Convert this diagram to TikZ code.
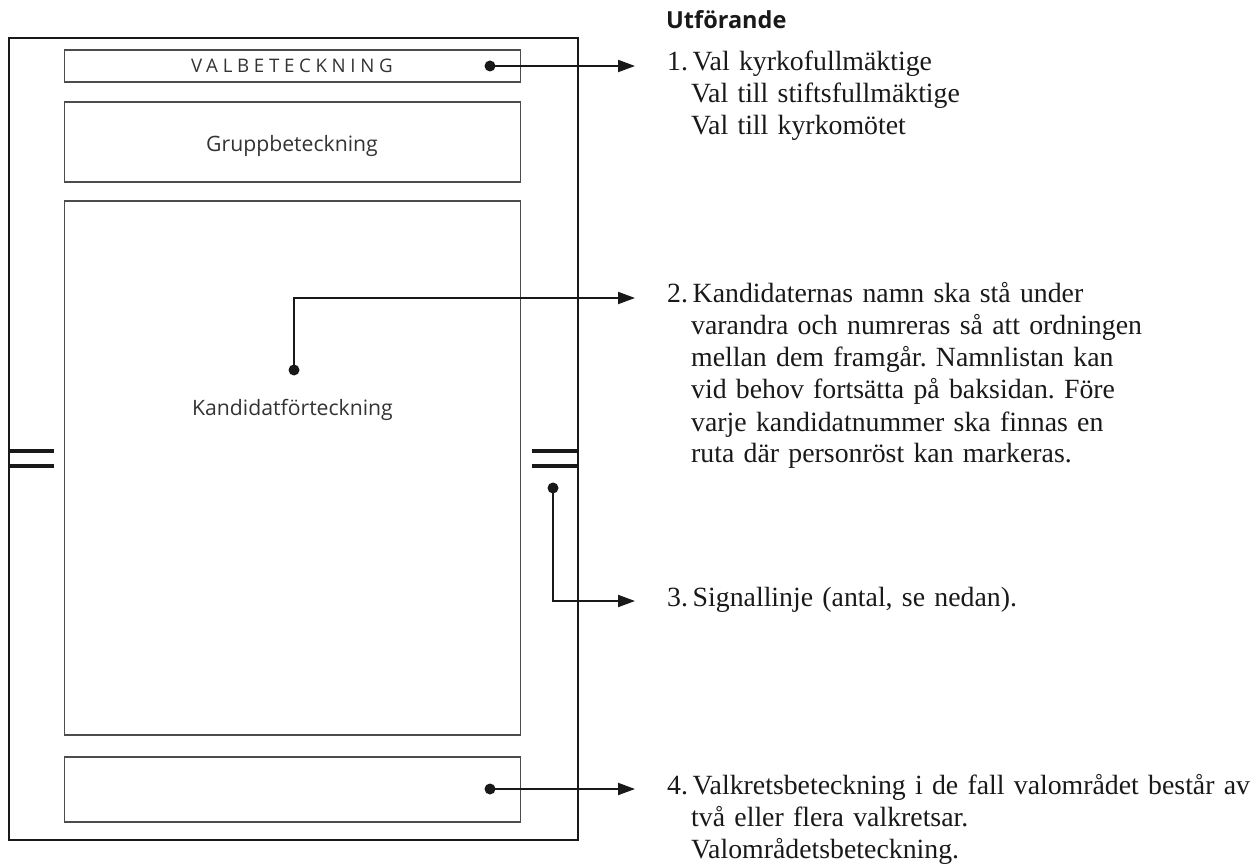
\documentclass[tikz,border=0pt]{standalone}
\usepackage{fontspec}
\setmainfont{Liberation Serif}
\newfontfamily\labelfont{Open Sans}
\newfontfamily\spacedfont[LetterSpace=25]{Open Sans}
\usetikzlibrary{arrows.meta}
\newcommand{\numbox}[1]{\makebox[25.5pt][l]{#1}}
\newcommand{\contline}{\hspace*{24pt}}
\frenchspacing
\begin{document}
\begin{tikzpicture}[x=1pt,y=-1pt,
  outerbox/.style={draw=black!90, line width=1.6pt, inner sep=0pt},
  innerbox/.style={draw=black!70, line width=1.1pt, inner sep=0pt, minimum width=456pt},
  boxlabel/.style={font=\labelfont\fontsize{21.2}{25}\selectfont, text=black!80, inner sep=0pt, anchor=base},
  dotmark/.style={circle, fill=black!90, inner sep=0pt, minimum size=11pt},
  pointer/.style={line width=2pt, draw=black!90, -{Triangle[length=17pt,width=12pt]}},
  signal/.style={line width=4.5pt, draw=black!90},
  itemtext/.style={anchor=base west, inner sep=0pt, text width=600pt, align=left, font=\fontsize{27.8}{32}\selectfont, text=black!90},
]
\useasboundingbox (0,0) rectangle (1252,866);

% ballot outline and fields
\node[outerbox, minimum width=569pt, minimum height=802pt] (page) at (293.5,439) {};
\node[innerbox, minimum height=32pt] (val) at (292.5,66) {};
\node[innerbox, minimum height=80pt] (grp) at (292.5,142) {};
\node[innerbox, minimum height=534pt] (kand) at (292.5,468) {};
\node[innerbox, minimum height=65pt] (vk) at (292.5,789.5) {};

\node[boxlabel, font=\spacedfont\fontsize{18.7}{22}\selectfont] (valtxt) at (292,73) {VALBETECKNING};
\node[boxlabel] (grptxt) at (292,152) {Gruppbeteckning};
\node[boxlabel] (kandtxt) at (292.5,415) {Kandidatförteckning};

% signal lines
\coordinate (sl1a) at (9,451);  \coordinate (sl1b) at (54,451);
\coordinate (sl2a) at (9,466);  \coordinate (sl2b) at (54,466);
\coordinate (sr1a) at (532,451); \coordinate (sr1b) at (578,451);
\coordinate (sr2a) at (532,466); \coordinate (sr2b) at (578,466);
\draw[signal] (sl1a) -- (sl1b);
\draw[signal] (sl2a) -- (sl2b);
\draw[signal] (sr1a) -- (sr1b);
\draw[signal] (sr2a) -- (sr2b);

% dots and arrow ends
\node[dotmark] (d1) at (490,66) {};
\node[dotmark] (d2) at (294,370) {};
\node[dotmark] (d3) at (553,488) {};
\node[dotmark] (d4) at (490,789) {};
\coordinate (e1) at (635,66);
\coordinate (e2) at (635,298);
\coordinate (e3) at (635,601);
\coordinate (e4) at (635,789);

\draw[pointer] (d1.center) -- (e1);
\draw[pointer] (d2.center) |- (e2);
\draw[pointer] (d3.center) |- (e3);
\draw[pointer] (d4.center) -- (e4);

% explanatory text
\node[anchor=base west, inner sep=0pt, font=\labelfont\bfseries\fontsize{23.5}{28}\selectfont, text=black!90] (head) at (666,29) {Utförande};

\node[itemtext] (t1) at (667,71) {\numbox{1.}Val kyrkofullmäktige\\
\contline Val till stiftsfullmäktige\\
\contline Val till kyrkomötet};

\node[itemtext] (t2) at (667,303) {\numbox{2.}Kandidaternas namn ska stå under\\
\contline varandra och numreras så att ordningen\\
\contline mellan dem framgår. Namnlistan kan\\
\contline vid behov fortsätta på baksidan. Före\\
\contline varje kandidatnummer ska finnas en\\
\contline ruta där personröst kan markeras.};

\node[itemtext] (t3) at (667,606) {\numbox{3.}Signallinje (antal, se nedan).};

\node[itemtext] (t4) at (667,794) {\numbox{4.}Valkretsbeteckning i de fall valområdet består av\\
\contline två eller flera valkretsar.\\
\contline Valområdetsbeteckning.};
\end{tikzpicture}
\end{document}
